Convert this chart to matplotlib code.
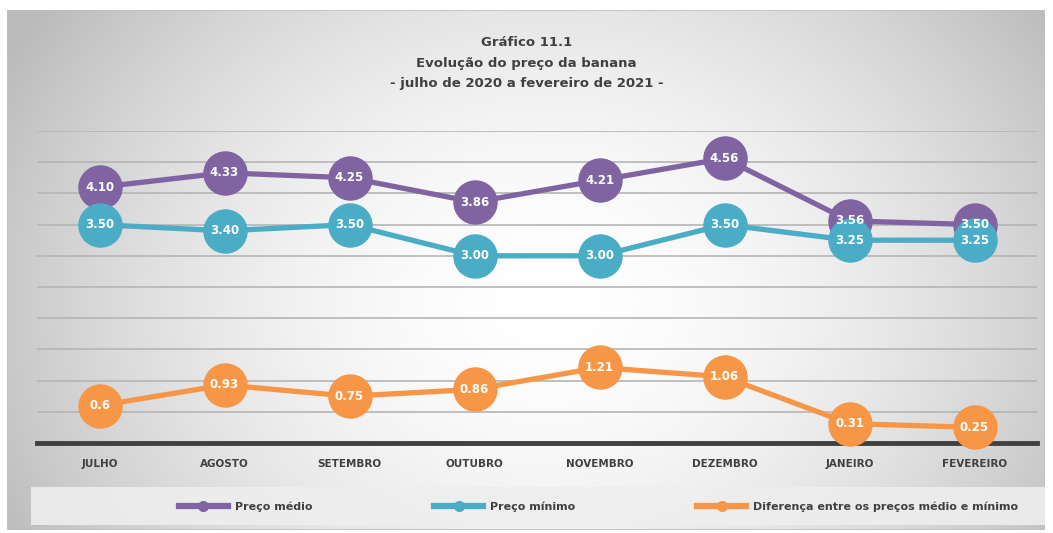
import matplotlib
matplotlib.use("Agg")
import matplotlib.pyplot as plt
import numpy as np
from matplotlib.patches import Rectangle
from matplotlib.lines import Line2D

months = ["JULHO", "AGOSTO", "SETEMBRO", "OUTUBRO", "NOVEMBRO", "DEZEMBRO", "JANEIRO", "FEVEREIRO"]
preco_medio = [4.10, 4.33, 4.25, 3.86, 4.21, 4.56, 3.56, 3.50]
preco_minimo = [3.50, 3.40, 3.50, 3.00, 3.00, 3.50, 3.25, 3.25]
diferenca = [0.6, 0.93, 0.75, 0.86, 1.21, 1.06, 0.31, 0.25]
labels_medio = ["4.10", "4.33", "4.25", "3.86", "4.21", "4.56", "3.56", "3.50"]
labels_minimo = ["3.50", "3.40", "3.50", "3.00", "3.00", "3.50", "3.25", "3.25"]
labels_dif = ["0.6", "0.93", "0.75", "0.86", "1.21", "1.06", "0.31", "0.25"]
series_names = ["Preço médio", "Preço mínimo", "Diferença entre os preços médio e mínimo"]
title_lines = "Gráfico 11.1\nEvolução do preço da banana\n- julho de 2020 a fevereiro de 2021 -"

FONT = ["DejaVu Sans", "Liberation Sans"]
plt.rcParams["font.family"] = FONT
TXT = "#404040"
PURPLE = "#8064A2"
TEAL = "#4BACC6"
ORANGE = "#F79646"

W, H = 1053, 533
fig = plt.figure(figsize=(W / 100, H / 100), dpi=100)
fig.patch.set_facecolor("white")

# background gradient panel
bg = fig.add_axes([7 / W, 1 - 530 / H, (1045 - 7) / W, (530 - 10) / H])
bg.set_axis_off()
ny, nx = 260, 520
yy, xx = np.mgrid[0:ny, 0:nx]
cx, cy = nx * 0.52, ny * 0.56
r = np.sqrt(((xx - cx) / (nx * 0.52)) ** 2 + ((yy - cy) / (ny * 0.85)) ** 2)
val = 1.0 - 0.21 * np.clip(r, 0, 1.15) ** 1.8
img = np.dstack([val, val, val])
bg.imshow(img, aspect="auto", extent=[0, 1, 0, 1], interpolation="bilinear")
bg.set_xlim(0, 1)
bg.set_ylim(0, 1)
bg.add_patch(Rectangle((0, 0), 1, 1, transform=bg.transAxes, fill=False,
                       edgecolor="#c0c0c0", lw=1.2))

# legend box
fig.patches.append(Rectangle((31 / W, 1 - 525 / H), (1045 - 31) / W, (525 - 487) / H,
                             transform=fig.transFigure, facecolor="#eeeeee",
                             edgecolor="none", alpha=0.9, zorder=1))

ax = fig.add_axes([37 / W, 90 / H, 1000 / W, 312 / H])
ax.patch.set_alpha(0)
x = np.arange(len(months))
ax.set_xlim(-0.5, len(months) - 0.5)
ax.set_ylim(0, 5)
ax.set_yticks(np.arange(0.5, 5.01, 0.5))
ax.yaxis.grid(True, color="#b5b5b5", lw=1.2)
ax.set_axisbelow(True)
ax.tick_params(axis="y", left=False, labelleft=False)
ax.tick_params(axis="x", bottom=False, pad=8)
ax.set_xticks(x)
ax.set_xticklabels(months, fontsize=7.5, fontweight="bold", color=TXT)
for s in ["top", "right", "left"]:
    ax.spines[s].set_visible(False)
ax.spines["bottom"].set_color("#404040")
ax.spines["bottom"].set_linewidth(3.5)
ax.spines["bottom"].set_zorder(1)

ms = 31
lw = 3.8
ax.plot(x, preco_medio, color=PURPLE, lw=lw, marker="o", ms=ms, zorder=3, clip_on=False)
ax.plot(x, preco_minimo, color=TEAL, lw=lw, marker="o", ms=ms, zorder=4, clip_on=False)
ax.plot(x, diferenca, color=ORANGE, lw=lw, marker="o", ms=ms, zorder=5, clip_on=False)

for vals, labs in [(preco_medio, labels_medio), (preco_minimo, labels_minimo), (diferenca, labels_dif)]:
    for xi, v, t in zip(x, vals, labs):
        ax.text(xi, v, t, color="white", fontsize=8.5, fontweight="bold",
                ha="center", va="center", zorder=10)

fig.text(0.5, 1 - 63 / H, title_lines, ha="center", va="center", fontsize=9.5,
         fontweight="bold", color=TXT, linespacing=1.8)

handles = [Line2D([], [], color=c, lw=4.5, marker="o", ms=7) for c in (PURPLE, TEAL, ORANGE)]
leg = fig.legend(handles, series_names, loc="center left", bbox_to_anchor=(179 / W, 1 - 507 / H),
                 ncol=3, frameon=False, fontsize=8, handlelength=4.4, handletextpad=0.6,
                 columnspacing=11.0, borderaxespad=0, borderpad=0)
for t in leg.get_texts():
    t.set_color(TXT)
    t.set_fontweight("bold")

fig.savefig("out.png", dpi=100)
